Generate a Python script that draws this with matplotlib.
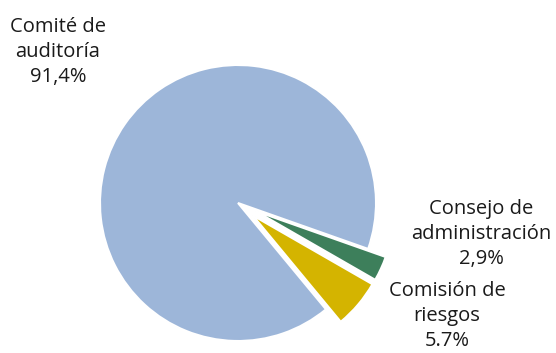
import matplotlib.pyplot as plt

plt.rcParams["font.family"] = ["Open Sans", "DejaVu Sans"]

# distribution by body (yellow, green, blue going counterclockwise)
labels = ["Comisión de\nriesgos\n5.7%", "Consejo de\nadministración\n2,9%", "Comité de\nauditoría\n91,4%"]
shares = [5.7, 2.9, 91.4]
colors = ["#D4B400", "#3D7F5B", "#9DB6D9"]

W, H = 556, 353
R = 138
explode = [0.14 * R, 0.14 * R, 0.0]

fig = plt.figure(figsize=(W / 100, H / 100), dpi=100)
ax = fig.add_axes([0, 0, 1, 1])

ax.pie(shares, colors=colors, explode=explode, startangle=-50.4,
       counterclock=True, center=(238, H - 203), radius=R,
       wedgeprops=dict(edgecolor="white", linewidth=1.5), frame=True)
ax.set_xlim(0, W)
ax.set_ylim(0, H)
ax.set_aspect("equal")
ax.axis("off")

label_pos = [(447, H - 316), (481, H - 234), (58, H - 52)]
for text, (x, y) in zip(labels, label_pos):
    ax.text(x, y, text, ha="center", va="center", fontsize=14.5,
            color="#1a1a1a", linespacing=1.32)

fig.savefig("out.png", dpi=100)
